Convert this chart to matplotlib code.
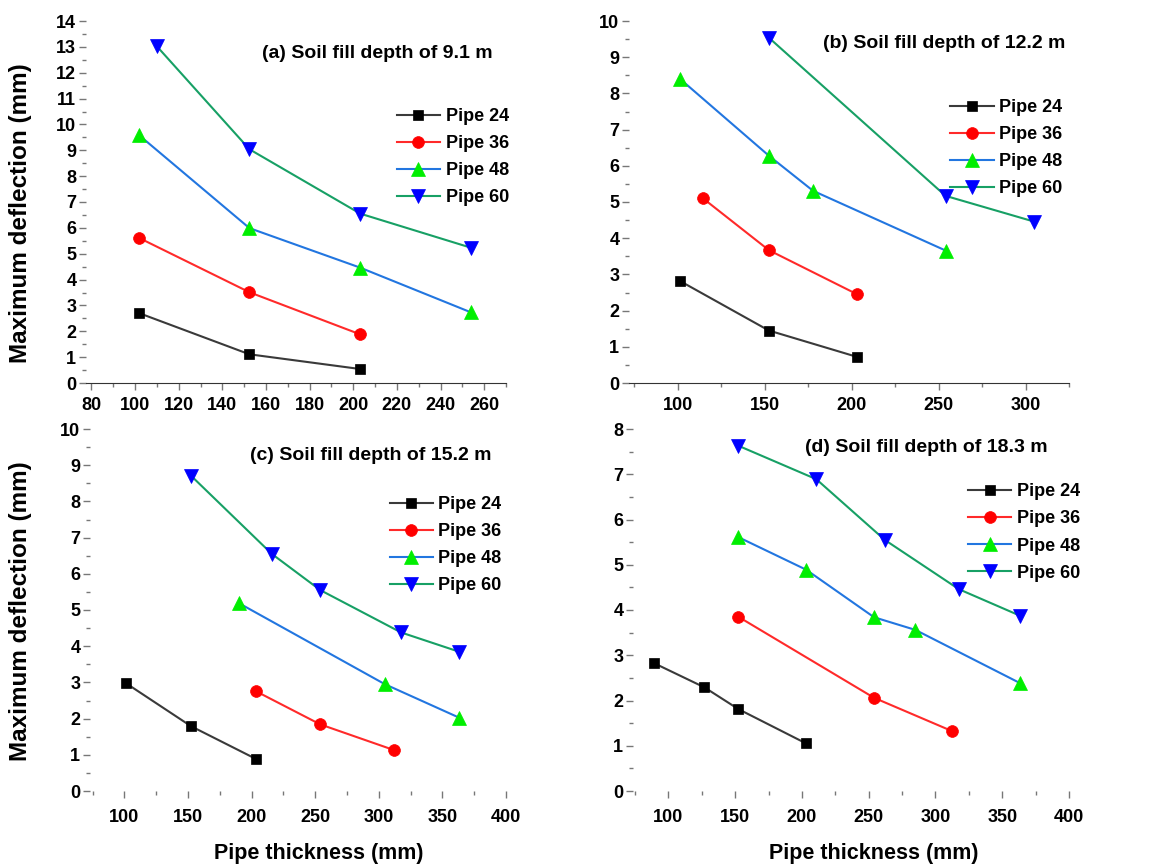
import matplotlib
matplotlib.use("Agg")
import matplotlib.pyplot as plt
from matplotlib.ticker import MultipleLocator

plt.rcParams['font.family'] = ['Liberation Sans', 'DejaVu Sans']
plt.rcParams['font.weight'] = 'bold'

W, H = 1161, 866

# panel (a) soil fill depth 9.1 m
a_x24 = [101.6, 152.4, 203.2]
a_y24 = [2.71, 1.11, 0.54]
a_x36 = [101.6, 152.4, 203.2]
a_y36 = [5.62, 3.51, 1.88]
a_x48 = [101.6, 152.4, 203.2, 254.0]
a_y48 = [9.60, 5.99, 4.46, 2.73]
a_x60 = [110.0, 152.4, 203.2, 254.0]
a_y60 = [13.02, 9.04, 6.55, 5.23]

# panel (b) 12.2 m
b_x24 = [101.6, 152.4, 203.2]
b_y24 = [2.81, 1.45, 0.72]
b_x36 = [114.3, 152.4, 203.2]
b_y36 = [5.11, 3.67, 2.45]
b_x48 = [101.6, 152.4, 177.8, 254.0]
b_y48 = [8.39, 6.28, 5.31, 3.66]
b_x60 = [152.4, 254.0, 304.8]
b_y60 = [9.54, 5.17, 4.46]

# panel (c) 15.2 m
c_x24 = [101.6, 152.4, 203.2]
c_y24 = [2.97, 1.79, 0.89]
c_x36 = [203.2, 254.0, 312.0]
c_y36 = [2.76, 1.84, 1.13]
c_x48 = [190.5, 304.8, 362.9]
c_y48 = [5.18, 2.95, 2.03]
c_x60 = [152.4, 215.9, 254.0, 317.5, 362.9]
c_y60 = [8.71, 6.55, 5.55, 4.38, 3.85]

# panel (d) 18.3 m
d_x24 = [88.9, 127.0, 152.4, 203.2]
d_y24 = [2.83, 2.29, 1.81, 1.05]
d_x36 = [152.4, 254.0, 312.7]
d_y36 = [3.85, 2.06, 1.32]
d_x48 = [152.4, 203.2, 254.0, 285.0, 363.6]
d_y48 = [5.61, 4.89, 3.84, 3.56, 2.38]
d_x60 = [152.4, 210.8, 262.0, 317.5, 363.6]
d_y60 = [7.63, 6.89, 5.55, 4.46, 3.87]

labels = ['Pipe 24', 'Pipe 36', 'Pipe 48', 'Pipe 60']
line_cols = ['#3a3a3a', '#ff2a2a', '#2276e0', '#17a065']
mk_cols = ['#000000', '#ff0000', '#00ee00', '#0000ff']
markers = ['s', 'o', '^', 'v']
msizes = [7.8, 8.5, 10, 10]

fig = plt.figure(figsize=(W / 100, H / 100), dpi=100)


def add_ax(left, right, top, bottom):
    return fig.add_axes([left / W, 1 - bottom / H, (right - left) / W, (bottom - top) / H])


def draw(ax, series, xlim, ylim, xmaj, xmin_, spine, title, tpos, legpos):
    for i, (x, y) in enumerate(series):
        ax.plot(x, y, color=line_cols[i], lw=1.5, marker=markers[i], ms=msizes[i],
                mfc=mk_cols[i], mec=mk_cols[i], mew=0.5, label=labels[i])
    ax.set_xlim(*xlim)
    ax.set_ylim(*ylim)
    ax.xaxis.set_major_locator(MultipleLocator(xmaj))
    ax.xaxis.set_minor_locator(MultipleLocator(xmin_))
    ax.yaxis.set_major_locator(MultipleLocator(1))
    ax.yaxis.set_minor_locator(MultipleLocator(0.5))
    for s in ['top', 'right', 'left']:
        ax.spines[s].set_visible(False)
    ax.spines['bottom'].set_visible(spine)
    ax.spines['bottom'].set_color('#333333')
    ax.tick_params(which='both', color='#777777', width=1, labelsize=13)
    ax.tick_params(which='major', length=5)
    ax.tick_params(which='minor', length=3)
    ax.tick_params(axis='y', pad=2)
    ax.tick_params(axis='x', pad=5 if spine else 8)
    for t in ax.get_xticklabels() + ax.get_yticklabels():
        t.set_fontweight('bold')
    ax.patch.set_alpha(0)
    fig.text(tpos[0] / W, 1 - tpos[1] / H, title, ha='right', va='center',
             fontsize=14, fontweight='bold')
    ax.legend(loc='upper left', bbox_to_anchor=legpos, frameon=False,
              prop={'size': 13, 'weight': 'bold'}, handlelength=2.4,
              handletextpad=0.3, labelspacing=0.56, borderaxespad=0, borderpad=0)


axa = add_ax(86, 506, 21, 383)
draw(axa, [(a_x24, a_y24), (a_x36, a_y36), (a_x48, a_y48), (a_x60, a_y60)],
     (77.5, 270), (0, 14), 20, 10, True, '(a) Soil fill depth of 9.1 m', (493, 53), (0.74, 0.76))

axb = add_ax(629, 1069, 21, 383)
draw(axb, [(b_x24, b_y24), (b_x36, b_y36), (b_x48, b_y48), (b_x60, b_y60)],
     (72, 325), (0, 10), 50, 25, True, '(b) Soil fill depth of 12.2 m', (1065, 43), (0.73, 0.785))

axc = add_ax(90, 506, 429, 791)
draw(axc, [(c_x24, c_y24), (c_x36, c_y36), (c_x48, c_y48), (c_x60, c_y60)],
     (73, 400), (0, 10), 50, 25, False, '(c) Soil fill depth of 15.2 m', (492, 455), (0.72, 0.815))

axd = add_ax(633, 1069, 429, 791)
draw(axd, [(d_x24, d_y24), (d_x36, d_y36), (d_x48, d_y48), (d_x60, d_y60)],
     (73.5, 400), (0, 8), 50, 25, False, '(d) Soil fill depth of 18.3 m', (1048, 447), (0.768, 0.85))

for yc in [213, 611]:
    fig.text(21 / W, 1 - yc / H, 'Maximum deflection (mm)', rotation=90, ha='center',
             va='center', fontsize=17.5, fontweight='bold')
for xc in [319, 874]:
    fig.text(xc / W, 1 - 853 / H, 'Pipe thickness (mm)', ha='center', va='center',
             fontsize=15.5, fontweight='bold')

fig.savefig('out.png', dpi=100)
